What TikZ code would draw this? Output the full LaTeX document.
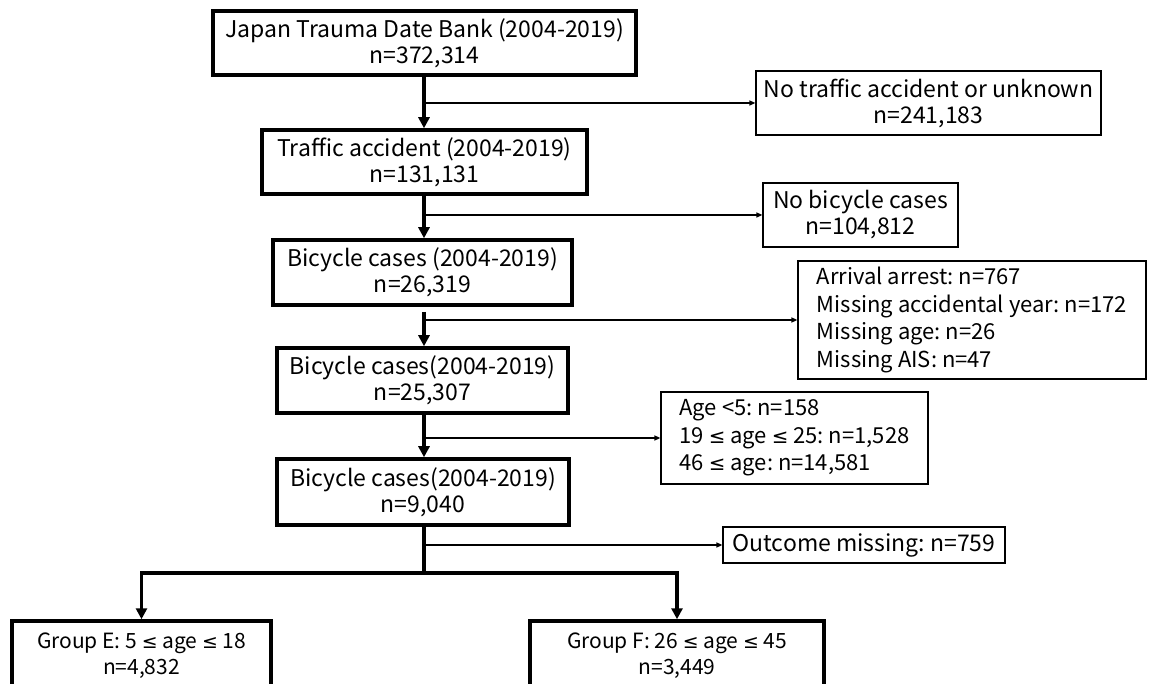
\documentclass[tikz,border=0pt]{standalone}
\usepackage{fontspec}
\setmainfont{Noto Sans CJK JP}
\newfontfamily\lefont{DejaVu Sans}[Scale=0.9]
\newcommand{\myle}{{\lefont ≤}}
\usetikzlibrary{arrows.meta}
\frenchspacing
\begin{document}
\begin{tikzpicture}[x=1pt,y=-1pt,
  txt/.style={font=\fontsize{23}{26}\selectfont},
  mainbox/.style={draw, line width=3.5pt, inner sep=0pt, align=center, txt},
  sidebox/.style={draw, line width=1.2pt, inner sep=0pt, align=center, txt},
  listbox/.style={draw, line width=1.2pt, inner sep=0pt, align=left,
     font=\fontsize{22}{27.5}\selectfont},
  groupbox/.style={mainbox, font=\fontsize{21}{26}\selectfont},
  mainarrow/.style={line width=3.5pt, -{Triangle[length=11pt,width=11pt]}},
  mainline/.style={line width=3.5pt},
  sidearrow/.style={line width=1.2pt, -{Triangle[length=6pt,width=5pt]}}
]
\useasboundingbox (0,0) rectangle (1149,684);
\clip (0,0) rectangle (1149,684);

% main column
\node[mainbox, minimum width=423pt, minimum height=64pt] (m1) at (424.5,43)
  {Japan Trauma Date Bank (2004-2019)\\n=372,314};
\node[mainbox, minimum width=325pt, minimum height=64pt] (m2) at (424.5,162)
  {Traffic accident (2004-2019)\\n=131,131};
\node[mainbox, minimum width=299pt, minimum height=65pt] (m3) at (422.5,272.5)
  {Bicycle cases (2004-2019)\\n=26,319};
\node[mainbox, minimum width=291pt, minimum height=65pt] (m4) at (422.5,380.5)
  {Bicycle cases(2004-2019)\\n=25,307};
\node[mainbox, minimum width=292pt, minimum height=66pt] (m5) at (423,492)
  {Bicycle cases(2004-2019)\\n=9,040};
\node[groupbox, minimum width=259pt, minimum height=70pt] (ge) at (141.5,656)
  {Group E: 5 \myle{} age \myle{} 18\\n=4,832};
\node[groupbox, minimum width=294pt, minimum height=70pt] (gf) at (677,656)
  {Group F: 26 \myle{} age \myle{} 45\\n=3,449};

% side boxes
\node[sidebox, minimum width=345pt, minimum height=64pt] (s1) at (928.5,103)
  {No traffic accident or unknown\\n=241,183};
\node[sidebox, minimum width=195pt, minimum height=64pt] (s2) at (860.5,215)
  {No bicycle cases\\n=104,812};
\node[listbox, minimum width=348pt, minimum height=118pt] (s3) at (972,320)
  {Arrival arrest: n=767\\Missing accidental year: n=172\\Missing age: n=26\\Missing AIS: n=47};
\node[listbox, minimum width=267pt, minimum height=92pt] (s4) at (794.5,438)
  {Age <5: n=158\\19 \myle{} age \myle{} 25: n=1,528\\46 \myle{} age: n=14,581};
\node[sidebox, minimum width=282pt, minimum height=36pt] (s5) at (864,545)
  {Outcome missing: n=759};

% main arrows
\draw[mainarrow] (m1.south -| 424,0) -- (424,0 |- m2.north);
\draw[mainarrow] (m2.south -| 424,0) -- (424,0 |- m3.north);
\draw[mainarrow] (424,312) -- (424,0 |- m4.north);
\draw[mainarrow] (m4.south -| 424,0) -- (424,0 |- m5.north);

% branch points
\coordinate (j1) at (424,103);
\coordinate (j2) at (424,215);
\coordinate (j3) at (424,320);
\coordinate (j4) at (424,438);
\coordinate (j5) at (424,545);
\draw[sidearrow] (j1) -- (s1.west);
\draw[sidearrow] (j2) -- (s2.west);
\draw[sidearrow] (j3) -- (s3.west);
\draw[sidearrow] (j4) -- (s4.west);
\draw[sidearrow] (j5) -- (s5.west);

% split
\coordinate (sp) at (424,573);
\coordinate (spl) at (141.5,573);
\coordinate (spr) at (677,573);
\draw[mainline] (m5.south -| sp) -- (sp);
\draw[mainline, line cap=rect] (spl) -- (spr);
\draw[mainarrow] (spl) -- (ge.north);
\draw[mainarrow] (spr) -- (gf.north);
\end{tikzpicture}
\end{document}
